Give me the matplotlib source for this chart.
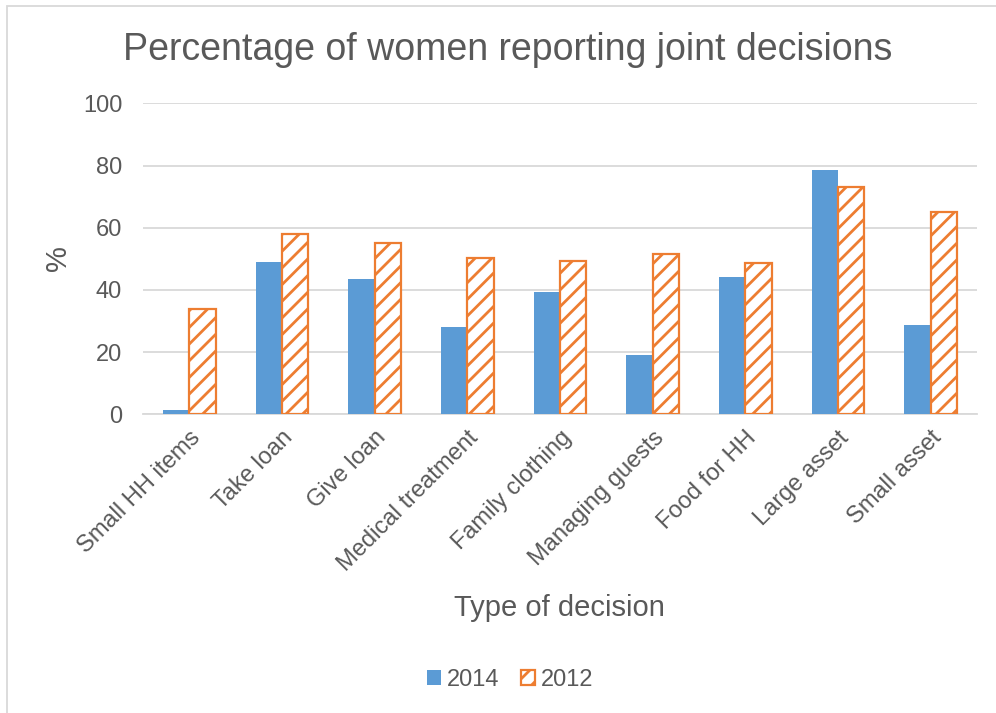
import matplotlib.pyplot as plt
import matplotlib.patches as mpatches
import numpy as np

plt.rcParams["font.family"] = ["Liberation Sans", "DejaVu Sans"]
plt.rcParams["hatch.linewidth"] = 2.0

decisions = [
    "Small HH items", "Take loan", "Give loan", "Medical treatment",
    "Family clothing", "Managing guests", "Food for HH", "Large asset",
    "Small asset",
]
pct_2014 = [1.4, 48.9, 43.5, 28.2, 39.2, 19.0, 44.0, 78.6, 28.7]
pct_2012 = [33.9, 58.1, 55.2, 50.4, 49.3, 51.4, 48.6, 73.2, 64.9]

blue = "#5B9BD5"
orange = "#ED7D31"
text_grey = "#595959"
grid_grey = "#D9D9D9"

fig = plt.figure(figsize=(9.96, 7.13), dpi=100)
ax = fig.add_axes([0.1436, 0.419, 0.8374, 0.436])

x = np.arange(len(decisions))
w = 0.285
ax.bar(x - w / 2, pct_2014, w, color=blue, label="2014", zorder=3)
ax.bar(x + w / 2, pct_2012, w, facecolor="white", edgecolor=orange,
       hatch="//", linewidth=1.6, label="2012", zorder=3)

ax.set_xlim(-0.5, len(decisions) - 0.5)
ax.set_ylim(0, 100)
ax.set_yticks(range(0, 101, 20))
ax.yaxis.grid(True, color=grid_grey, linewidth=1.3, zorder=0)
for side in ["top", "right", "left"]:
    ax.spines[side].set_visible(False)
ax.spines["bottom"].set_color(grid_grey)
ax.spines["bottom"].set_linewidth(1.3)
ax.tick_params(axis="both", length=0, labelsize=17, labelcolor=text_grey)
ax.tick_params(axis="y", pad=15)
ax.tick_params(axis="x", pad=9)
ax.set_xticks(x)
ax.set_xticklabels(decisions, rotation=45, ha="right", rotation_mode="anchor")

ax.set_ylabel("%", fontsize=21, color=text_grey)
ax.yaxis.set_label_coords(0.058, 0.638, transform=fig.transFigure)
ax.set_xlabel("Type of decision", fontsize=21, color=text_grey)
ax.xaxis.set_label_coords(0.562, 0.147, transform=fig.transFigure)
ax.xaxis.label.set_va("center")
ax.yaxis.label.set_va("center")
fig.text(0.5095, 0.93, "Percentage of women reporting joint decisions",
         ha="center", va="center", fontsize=27, color=text_grey)

handles = [
    mpatches.Patch(facecolor=blue, label="2014"),
    mpatches.Patch(facecolor="white", edgecolor=orange, hatch="//",
                   linewidth=1.6, label="2012"),
]
fig.legend(handles=handles, loc="center", bbox_to_anchor=(0.512, 0.046),
           ncol=2, frameon=False, fontsize=17, labelcolor=text_grey,
           handlelength=0.6, handleheight=0.6, handletextpad=0.25,
           columnspacing=0.9)

# light chart-area border along the top and left edges
fig.add_artist(mpatches.Rectangle((0.007, -0.1), 1.1, 1.092,
                                  transform=fig.transFigure, fill=False,
                                  edgecolor=grid_grey, linewidth=1.3))

fig.savefig("out.png", dpi=100)
